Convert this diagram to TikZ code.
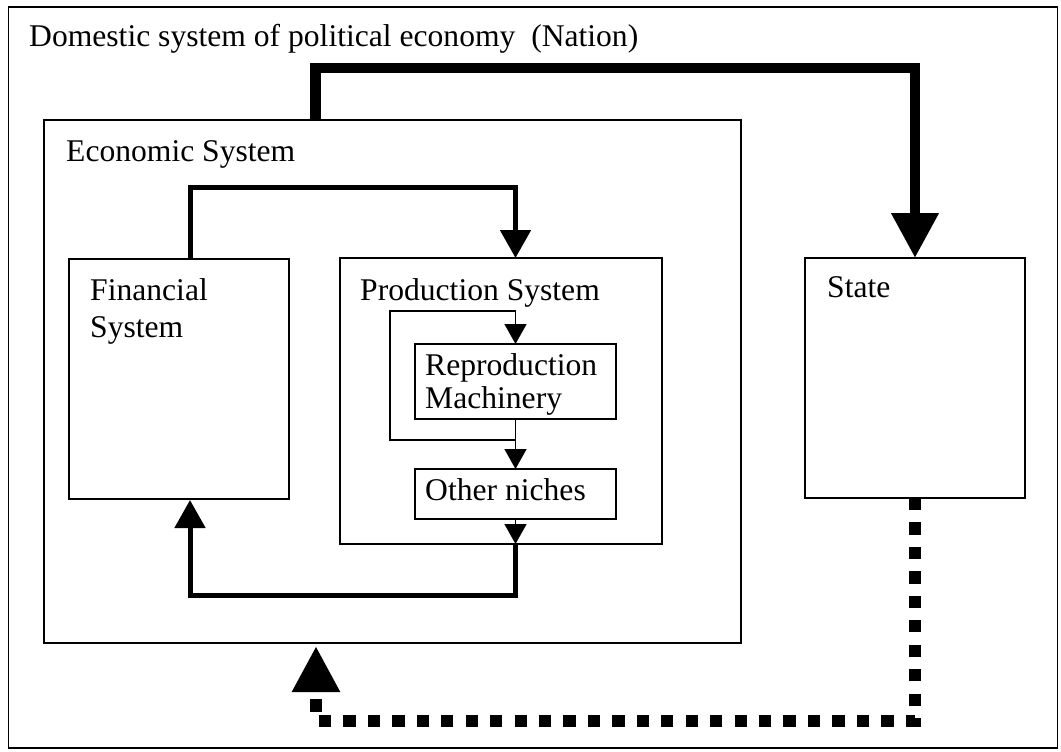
\documentclass[tikz,border=0pt]{standalone}
\usepackage{fontspec}
\setmainfont{Liberation Serif}
\usetikzlibrary{arrows.meta}
\begin{document}
\begin{tikzpicture}[x=1pt,y=-1pt,
  box/.style={draw, line width=1.5pt, inner sep=0pt, outer sep=0pt, anchor=north west},
  lbl/.style={anchor=base west, inner sep=0pt, font=\fontsize{31.6}{37}\selectfont},
  thinarrow/.style={line width=1.5pt, -{Triangle[length=20pt,width=22pt]}},
  midarrow/.style={line width=5pt, -{Triangle[length=28pt,width=30pt]}},
  heavyarrow/.style={line width=10.5pt, -{Triangle[length=45pt,width=45pt]}},
  dotarrow/.style={line width=12pt, dash pattern=on 12.23pt off 12.22pt, -{Triangle[length=46pt,width=45pt]}}]

\useasboundingbox (0,0) rectangle (1061,752);

% boxes
\node[box, minimum width=1049pt, minimum height=741pt] (nation) at (8.5,7) {};
\node[box, minimum width=697pt, minimum height=523pt] (econ) at (44,120) {};
\node[box, minimum width=220pt, minimum height=240pt] (fin) at (69,259) {};
\node[box, minimum width=322pt, minimum height=286pt] (prod) at (340,258) {};
\node[box, minimum width=201pt, minimum height=75pt] (repro) at (415,344) {};
\node[box, minimum width=201pt, minimum height=50pt] (other) at (415,469) {};
\node[box, minimum width=220pt, minimum height=240pt] (state) at (805,258) {};

% labels
\node[lbl] (tnation) at (29,47) {Domestic system of political economy~ (Nation)};
\node[lbl] (tecon) at (66,161) {Economic System};
\node[lbl] (tfin1) at (90,300) {Financial};
\node[lbl] (tfin2) at (90,337) {System};
\node[lbl] (tprod) at (360,300) {Production System};
\node[lbl] (trepro1) at (425,375) {Reproduction};
\node[lbl] (trepro2) at (425,408) {Machinery};
\node[lbl] (tother) at (425,500) {Other niches};
\node[lbl] (tstate) at (827,297) {State};

% connector end points
\coordinate (ea) at (315.5,120);
\coordinate (fa) at (190,259);
\coordinate (pa) at (515.5,258);
\coordinate (pb) at (515.5,544);
\coordinate (fb) at (190,500);
\coordinate (lp) at (515.5,440);
\coordinate (eb) at (316,646);

% heavy arrow economic system -> state
\draw[heavyarrow] (ea) -- (315.5,68) -| (state.north);

% financial -> production
\draw[midarrow] (fa) -- (190,187) -| (pa);

% inside production system
\draw[thinarrow] (repro.south) -- (other.north);
\draw[thinarrow] (lp) -| (390,311) -| (repro.north);
\draw[thinarrow] (other.south) -- (pb);

% production -> financial
\draw[midarrow] (pb) -- (515.5,595) -| (fb);

% state -> economic system (dotted)
\draw[dotarrow] (state.south) -- (915,721) -| (eb);

\end{tikzpicture}
\end{document}
